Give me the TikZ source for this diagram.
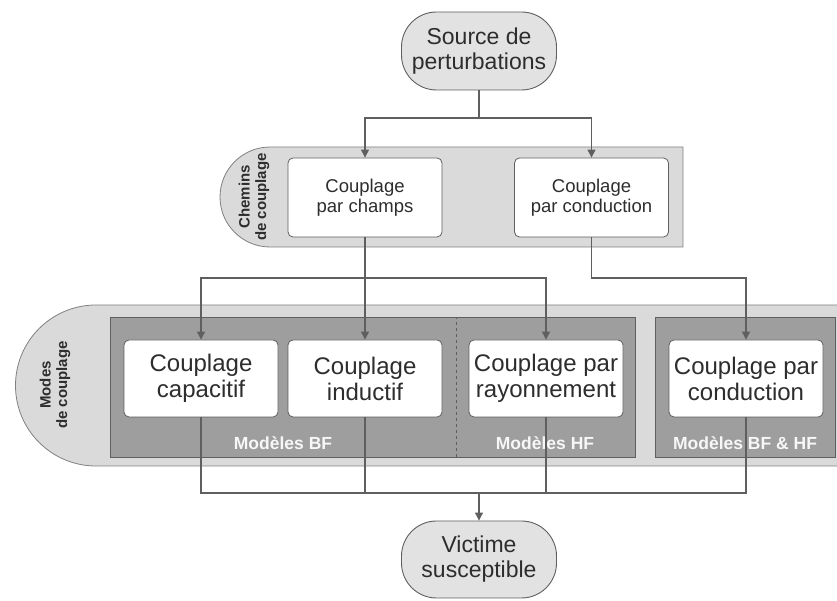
\documentclass[tikz,border=0pt]{standalone}
\usepackage{fontspec}
\setmainfont{Liberation Sans}
\usepackage{xcolor}
\usepackage{tikz}
\usetikzlibrary{arrows.meta,shapes}

\definecolor{bandgray}{RGB}{218,218,218}
\definecolor{modgray}{RGB}{158,158,158}
\definecolor{termgray}{RGB}{226,226,226}
\definecolor{edgegray}{RGB}{95,95,95}
\definecolor{txtgray}{RGB}{45,45,45}

\begin{document}
\begin{tikzpicture}[x=1pt,y=1pt,>={Triangle[length=8pt,width=8pt]},
  termbox/.style={draw=edgegray,fill=termgray,rounded corners=35pt,line width=0.9pt,
    minimum width=155pt,minimum height=78pt,align=center,text=txtgray,
    font=\fontsize{23}{25}\selectfont},
  pathbox/.style={draw=edgegray,fill=white,rounded corners=5pt,line width=0.8pt,
    minimum width=154pt,minimum height=79pt,align=center,text=txtgray,
    font=\fontsize{18.5}{20}\selectfont},
  modebox/.style={pathbox,minimum height=77pt,font=\fontsize{24}{26}\selectfont},
  modelbl/.style={text=white!94!gray,font=\bfseries\fontsize{17.5}{19}\selectfont},
  sidelbl/.style={rotate=90,align=center,text=txtgray,font=\bfseries\fontsize{15}{16.5}\selectfont},
  wire/.style={draw=edgegray,line width=1.1pt}]
\useasboundingbox (0,0) rectangle (837,601);
\clip (0,0) rectangle (837,601);
% bandes de fond
\draw[fill=bandgray,draw=gray,line width=0.8pt](683,454)--(270,454)arc(90:270:50)--(683,354)--cycle;
\draw[fill=bandgray,draw=gray,line width=0.8pt](850,296)--(96,296)arc(90:270:80.5)--(850,135);
\draw[fill=modgray,draw=edgegray,line width=0.8pt](110,144)rectangle(635,284);
\draw[fill=modgray,draw=edgegray,line width=0.8pt](655,144)rectangle(835,284);
\draw[dashed,edgegray,line width=0.8pt](456,144)--(456,284);
\node[sidelbl] (chemins) at (254,404) {Chemins\\de couplage};
\node[sidelbl] (modes) at (55,216) {Modes\\de couplage};
\node[modelbl] (lblbf) at (283,158) {Modèles BF};
\node[modelbl] (lblhf) at (545,158) {Modèles HF};
\node[modelbl] (lblbfhf) at (745,158) {Modèles BF \& HF};
% noeuds
\node[termbox] (src) at (479,550) {Source de\\perturbations};
\node[pathbox] (champs) at (365,403.5) {Couplage\\par champs};
\node[pathbox] (condA) at (591.5,403.5) {Couplage\\par conduction};
\node[modebox] (capa) at (201,222.5) {Couplage\\capacitif};
\node[modebox] (induc) at (365,222.5) {Couplage\\inductif};
\node[modebox] (rayon) at (546,222.5) {Couplage par\\rayonnement};
\node[modebox] (condB) at (746,222.5) {Couplage par\\conduction};
\node[termbox,minimum height=77pt] (victim) at (479,41.5) {Victime\\susceptible};
% liaisons
\coordinate (bus1) at (0,483);
\coordinate (bus2) at (0,323);
\coordinate (bus3) at (0,108);
\draw[wire,->](src.south)--(src.south|-bus1)-|(champs.north);
\draw[wire,->](src.south|-bus1)-|(condA.north);
\draw[wire,->](champs.south)--(induc.north);
\draw[wire,->](champs.south|-bus2)-|(capa.north);
\draw[wire,->](champs.south|-bus2)-|(rayon.north);
\draw[wire,->](condA.south)--(condA.south|-bus2)-|(condB.north);
\draw[wire](capa.south)--(capa.south|-bus3)-|(condB.south);
\draw[wire](induc.south)--(induc.south|-bus3);
\draw[wire](rayon.south)--(rayon.south|-bus3);
\draw[wire,->](victim.north|-bus3)--(victim.north);
\end{tikzpicture}
\end{document}
